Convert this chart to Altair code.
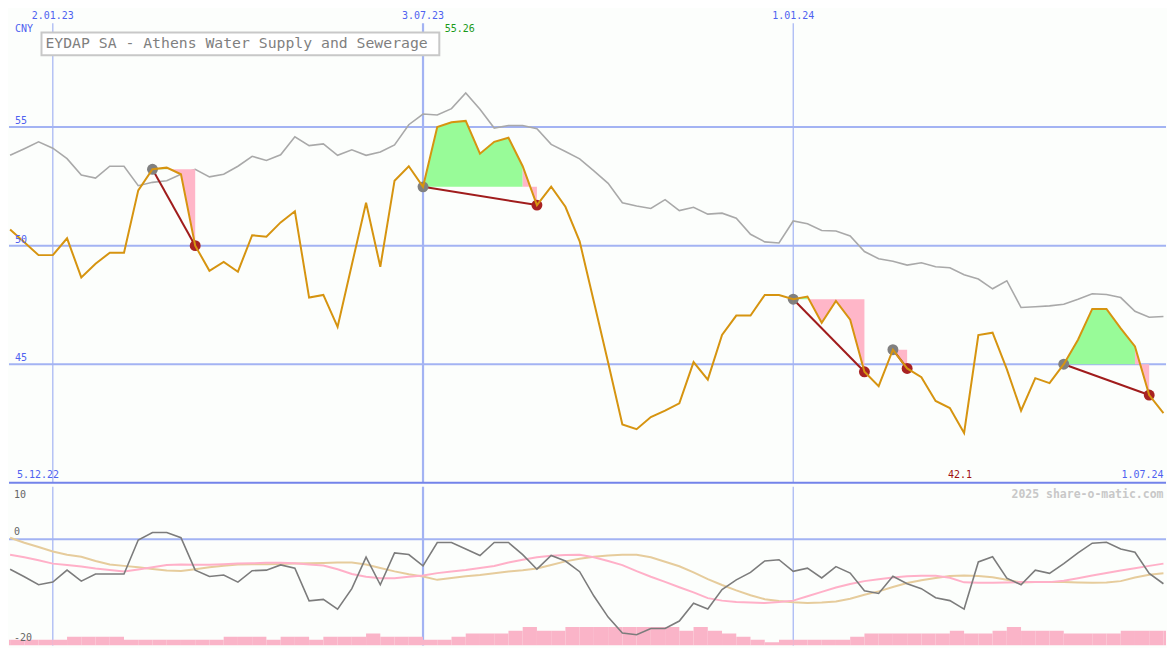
import altair as alt
import pandas as pd

# ---------------- data (weekly, week 0 = 2.01.23) ----------------
weeks = list(range(-3, 79))
close = [50.68, 50.14, 49.60, 49.60, 50.31, 48.66, 49.24, 49.70, 49.70,
         52.33, 53.22, 53.29, 53.01, 50.00, 48.94, 49.31, 48.90, 50.44, 50.38,
         50.98, 51.45, 47.81, 47.92, 46.57, 49.19, 51.81, 49.11, 52.74, 53.35,
         52.48, 55.00, 55.20, 55.26, 53.88, 54.38, 54.55, 53.35, 51.71, 52.49,
         51.64, 50.18, 47.63, 45.07, 42.46, 42.26, 42.77, 43.04, 43.35, 45.09,
         44.35, 46.23, 47.05, 47.05, 47.92, 47.92, 47.74, 47.85, 46.75, 47.67,
         46.88, 44.68, 44.07, 45.61, 44.82, 44.45, 43.45, 43.15, 42.10, 46.23,
         46.33, 44.79, 43.04, 44.41, 44.20, 45.00, 46.03, 47.33, 47.33, 46.51, 45.75, 43.70, 42.94]
index_line = [53.81, 54.09, 54.38, 54.11, 53.67, 52.98, 52.85, 53.35, 53.35,
              52.53, 52.67, 52.74, 53.01, 53.22, 52.90, 53.01, 53.35, 53.77, 53.59,
              53.83, 54.59, 54.22, 54.29, 53.81, 54.04, 53.81, 53.95, 54.25, 55.10,
              55.55, 55.51, 55.78, 56.44, 55.75, 54.96, 55.07, 55.07, 54.93, 54.27,
              53.97, 53.66, 53.15, 52.63, 51.81, 51.67, 51.57, 51.94, 51.48, 51.62,
              51.33, 51.37, 51.16, 50.48, 50.16, 50.11, 51.04, 50.92, 50.64, 50.62,
              50.41, 49.75, 49.45, 49.34, 49.18, 49.28, 49.11, 49.07, 48.77, 48.59,
              48.18, 48.52, 47.39, 47.42, 47.46, 47.53, 47.74, 47.97, 47.94, 47.81, 47.23, 46.98, 47.01]
osc_main = [-5.69, -7.13, -8.65, -8.15, -5.87, -7.96, -6.61, -6.61, -6.61,
            -0.13, 1.30, 1.30, 0.31, -5.87, -7.09, -6.80, -8.15, -5.98, -5.87,
            -4.87, -5.50, -11.72, -11.43, -13.28, -9.39, -3.39, -8.65, -2.59, -2.91,
            -5.06, -0.61, -0.61, -1.85, -3.09, -0.61, -0.61, -2.91, -5.69, -3.09,
            -4.13, -6.17, -10.80, -14.81, -17.83, -18.15, -16.98, -16.98, -15.56, -12.17,
            -13.28, -9.57, -7.72, -6.30, -4.13, -3.89, -6.11, -5.50, -7.35, -5.19,
            -6.43, -9.81, -10.31, -7.04, -8.46, -9.39, -11.11, -11.67, -13.28, -4.31,
            -3.33, -7.41, -8.65, -5.87, -6.48, -4.63, -2.59, -0.74, -0.56, -1.85, -2.46, -6.48, -8.46]
osc_slow = [0.28, -0.65, -1.48, -2.31, -2.93, -3.33, -4.13, -4.81, -5.06,
            -5.33, -5.65, -5.96, -6.02, -5.70, -5.30, -5.04, -4.78, -4.76, -4.76,
            -4.70, -4.63, -4.56, -4.50, -4.44, -4.44, -4.81, -5.46, -6.11, -6.67,
            -7.09, -7.72, -7.37, -7.04, -6.81, -6.48, -6.11, -5.89, -5.56, -4.91,
            -4.20, -3.70, -3.33, -3.07, -2.96, -2.93, -3.43, -4.26, -5.13, -6.30,
            -7.59, -8.70, -9.72, -10.65, -11.39, -11.76, -12.00, -12.13, -12.04, -11.85,
            -11.30, -10.56, -9.91, -9.07, -8.33, -7.78, -7.35, -6.98, -6.91, -7.00,
            -7.22, -7.69, -8.24, -8.15, -8.15, -8.15, -8.20, -8.28, -8.24, -7.96, -7.28, -6.74, -6.48]
osc_fast = [-2.93, -3.43, -3.98, -4.63, -4.91, -5.19, -5.56, -5.83, -6.11,
            -5.74, -5.33, -4.91, -4.78, -4.85, -4.85, -4.74, -4.63, -4.56, -4.48,
            -4.48, -4.56, -4.78, -5.00, -5.70, -6.61, -7.13, -7.41, -7.41, -7.15,
            -6.91, -6.44, -6.15, -5.85, -5.46, -5.07, -4.41, -3.89, -3.44, -3.15,
            -3.00, -2.96, -3.41, -4.13, -4.91, -6.07, -7.13, -8.11, -9.13, -10.11,
            -11.20, -11.67, -11.91, -12.04, -12.13, -11.94, -11.67, -10.83, -10.00, -9.17,
            -8.52, -7.96, -7.59, -7.26, -7.04, -6.94, -6.96, -7.31, -8.19, -8.28,
            -8.28, -8.24, -8.15, -8.15, -8.15, -7.87, -7.41, -6.91, -6.41, -5.93, -5.52, -5.06, -4.63]
vol_weeks = list(range(-4, 79))
vol = [1.1, 1.1, 1.1, 1.1, 1.1, 1.67, 1.67, 1.67, 1.67,
       1.1, 1.1, 1.1, 1.1, 1.1, 1.1, 1.1, 1.67, 1.67, 1.67,
       1.1, 1.67, 1.67, 1.1, 1.67, 1.67, 1.67, 2.28, 1.67, 1.67,
       1.67, 1.1, 1.1, 1.67, 2.28, 2.28, 2.28, 2.78, 3.52, 2.78,
       2.78, 3.52, 3.52, 3.52, 3.52, 3.52, 3.52, 3.52, 3.52, 2.78,
       3.52, 2.78, 2.28, 1.67, 1.1, 0.61, 1.1, 1.1, 1.1, 1.1,
       1.1, 1.67, 2.28, 2.28, 2.28, 2.28, 2.28, 2.28, 2.78, 2.28,
       2.28, 2.78, 3.52, 2.78, 2.78, 2.78, 2.28, 2.28, 2.28, 2.28, 2.78, 2.78, 2.78, 2.78]

signal_start = [7, 26, 52, 59, 71]
signal_end = [10, 34, 57, 60, 77]

tick_weeks = [0, 26, 52]
tick_labels = ["2.01.23", "3.07.23", "1.01.24"]
tick_widths = [1.2, 2.2, 1.2]
price_levels = [55, 50, 45]
price_labels = ["55", "50", "45"]
osc_levels = [10, 0, -20.2]
osc_labels = ["10", "0", "-20"]
title = "EYDAP SA - Athens Water Supply and Sewerage"

# ---------------- layout ----------------
W, H1, H2 = 1159, 475, 159
SX, SY1, SY2 = W / 1175, H1 / 487, H2 / 163
FONT = "DejaVu Sans Mono"
GRID = "#a3b3f3"
BLUE_TXT = "#4f62f0"
GREEN = "#98fb98"
PINK = "#ffb6c8"

xs = alt.Scale(domain=[-3.077, 78.18], nice=False, zero=False)
y1 = alt.Scale(domain=[40, 60], nice=False, zero=False)
y2s = alt.Scale(domain=[-20.2, 10], nice=False, zero=False)


def X(f="i"):
    return alt.X(f"{f}:Q", scale=xs, axis=None)


def Y1(f):
    return alt.Y(f"{f}:Q", scale=y1, axis=None)


def Y2(f):
    return alt.Y(f"{f}:Q", scale=y2s, axis=None)


price_df = pd.DataFrame({"i": weeks, "close": close, "idx": index_line,
                         "osc": osc_main, "slow": osc_slow, "fast": osc_fast})
vol_df = pd.DataFrame({"i": vol_weeks, "i2": [w + 1 for w in vol_weeks],
                       "top": [-20.2 + v for v in vol]})

fill_rows, conn_rows, start_rows, end_rows = [], [], [], []
for n, (s, e) in enumerate(zip(signal_start, signal_end)):
    level = close[weeks.index(s)]
    endv = close[weeks.index(e)]
    conn_rows.append({"i": s, "i2": e, "p": level, "p2": endv})
    start_rows.append({"i": s, "p": level})
    end_rows.append({"i": e, "p": endv})
    prev, run = None, 0
    for k in range(s, e):
        nxt = close[weeks.index(k + 1)]
        kind = "up" if nxt > level else "down"
        if kind != prev:
            run += 1
            prev = kind
            fill_rows.append({"run": f"{n}_{run}", "kind": kind, "i": k,
                              "p": close[weeks.index(k)], "lvl": level})
        fill_rows.append({"run": f"{n}_{run}", "kind": kind, "i": k + 1, "p": nxt, "lvl": level})
fill_df = pd.DataFrame(fill_rows)
conn_df = pd.DataFrame(conn_rows)
start_df = pd.DataFrame(start_rows)
end_df = pd.DataFrame(end_rows)

vgrid_df = pd.DataFrame({"i": tick_weeks, "w": tick_widths, "t": tick_labels})
hgrid_df = pd.DataFrame({"p": price_levels, "t": price_labels})

imax = weeks[close.index(max(close))]
imin = weeks[close.index(min(close))]
extreme_df = pd.DataFrame({"i": [imax], "t": [f"{max(close):g}"]})
min_df = pd.DataFrame({"i": [imin], "t": [f"{min(close):g}"]})

# ---------------- main panel ----------------
hgrid = alt.Chart(hgrid_df).mark_rule(color=GRID, strokeWidth=2).encode(y=Y1("p"))
vgrid = alt.Chart(vgrid_df).mark_rule(color=GRID).encode(
    x=X(), y=alt.value(15 * SY1), y2=alt.value(H1),
    strokeWidth=alt.StrokeWidth("w:Q", scale=None))
sep = alt.Chart(pd.DataFrame({"p": [40]})).mark_rule(color="#7383ea", strokeWidth=2).encode(y=Y1("p"))

idx_line = alt.Chart(price_df).mark_line(color="#a9a9a9", strokeWidth=1.6, clip=True).encode(
    x=X(), y=Y1("idx"))
fills = alt.Chart(fill_df).mark_area(opacity=1, clip=True).encode(
    x=X(), y=alt.Y("p:Q", scale=y1, axis=None, stack=None), y2="lvl:Q",
    color=alt.Color("kind:N", scale=alt.Scale(domain=["up", "down"], range=[GREEN, PINK]), legend=None),
    detail="run:N")
conns = alt.Chart(conn_df).mark_rule(color="#a01c1c", strokeWidth=2).encode(
    x=X(), x2="i2:Q", y=Y1("p"), y2="p2:Q")
starts = alt.Chart(start_df).mark_circle(color="#808080", size=120, opacity=1).encode(x=X(), y=Y1("p"))
ends = alt.Chart(end_df).mark_circle(color="#a82222", size=120, opacity=1).encode(x=X(), y=Y1("p"))
close_line = alt.Chart(price_df).mark_line(color="#d69410", strokeWidth=2, clip=True).encode(
    x=X(), y=Y1("close"))

date_txt = alt.Chart(vgrid_df).mark_text(font=FONT, fontSize=10, color=BLUE_TXT, baseline="middle").encode(
    x=X(), y=alt.value(8 * SY1), text="t:N")
price_txt = alt.Chart(hgrid_df).mark_text(font=FONT, fontSize=10, color=BLUE_TXT, align="left",
                                          baseline="alphabetic", dy=-3).encode(
    x=alt.value(6 * SX), y=Y1("p"), text="t:N")
cny_txt = alt.Chart(pd.DataFrame({"t": ["CNY"]})).mark_text(
    font=FONT, fontSize=10, color=BLUE_TXT, align="left", baseline="middle").encode(
    x=alt.value(6 * SX), y=alt.value(21 * SY1), text="t:N")
max_txt = alt.Chart(extreme_df).mark_text(font=FONT, fontSize=10, color="#1a9a1a", baseline="middle", dx=-6).encode(
    x=X(), y=alt.value(21 * SY1), text="t:N")
min_txt = alt.Chart(min_df).mark_text(font=FONT, fontSize=10, color="#a01010", baseline="middle", dx=-4).encode(
    x=X(), y=alt.value(479 * SY1), text="t:N")
left_txt = alt.Chart(pd.DataFrame({"t": ["5.12.22"]})).mark_text(
    font=FONT, fontSize=10, color=BLUE_TXT, align="left", baseline="middle").encode(
    x=alt.value(8 * SX), y=alt.value(479 * SY1), text="t:N")
right_txt = alt.Chart(pd.DataFrame({"i": [78], "t": ["1.07.24"]})).mark_text(
    font=FONT, fontSize=10, color=BLUE_TXT, align="right", baseline="middle").encode(
    x=X(), y=alt.value(479 * SY1), text="t:N")

title_df = pd.DataFrame({"t": [title]})
title_box = alt.Chart(title_df).mark_rect(fill="#ffffff", stroke="#c8c8c8", strokeWidth=2).encode(
    x=alt.value(33 * SX), x2=alt.value(437 * SX), y=alt.value(24.5 * SY1), y2=alt.value(48 * SY1))
title_txt = alt.Chart(title_df).mark_text(font=FONT, fontSize=14.8, color="#7f7f7f", align="left",
                                          baseline="middle").encode(
    x=alt.value(37 * SX), y=alt.value(36.5 * SY1), text="t:N")

main = alt.layer(hgrid, vgrid, idx_line, fills, conns, starts, ends, close_line, sep,
                 date_txt, price_txt, cny_txt, max_txt, min_txt, left_txt, right_txt,
                 title_box, title_txt).properties(width=W, height=H1)

# ---------------- oscillator panel ----------------
vgrid2 = alt.Chart(vgrid_df).mark_rule(color=GRID).encode(
    x=X(), strokeWidth=alt.StrokeWidth("w:Q", scale=None))
zero = alt.Chart(pd.DataFrame({"v": [0]})).mark_rule(color=GRID, strokeWidth=2).encode(y=Y2("v"))
bars = alt.Chart(vol_df).mark_rect(color="#fab4c8", clip=True).encode(
    x=X(), x2="i2:Q", y=Y2("top"), y2=alt.datum(-20.2))
slow_line = alt.Chart(price_df).mark_line(color="#e6cc9c", strokeWidth=2, clip=True).encode(x=X(), y=Y2("slow"))
fast_line = alt.Chart(price_df).mark_line(color="#ffb0c8", strokeWidth=2, clip=True).encode(x=X(), y=Y2("fast"))
osc_line = alt.Chart(price_df).mark_line(color="#7c7c7c", strokeWidth=1.6, clip=True).encode(x=X(), y=Y2("osc"))

osc_dy = [9 * SY2, -7 * SY2, -8 * SY2]
osc_txts = [
    alt.Chart(pd.DataFrame({"v": [v], "t": [t]})).mark_text(
        font=FONT, fontSize=10, color="#666666", align="left", baseline="middle", dy=d).encode(
        x=alt.value(5 * SX), y=Y2("v"), text="t:N")
    for v, t, d in zip(osc_levels, osc_labels, osc_dy)
]
wm = alt.Chart(pd.DataFrame({"i": [78], "t": ["2025 share-o-matic.com"]})).mark_text(
    font=FONT, fontSize=11.5, fontWeight="bold", color="#c8c8c8", align="right", baseline="middle").encode(
    x=X(), y=alt.value(9 * SY2), text="t:N")

lower = alt.layer(vgrid2, zero, bars, slow_line, fast_line, osc_line, *osc_txts, wm).properties(
    width=W, height=H2)

chart = alt.vconcat(main, lower, spacing=0).properties(
    background="#fcfefc", padding=0
).configure_view(strokeWidth=0).configure_concat(spacing=0)

chart.save("out.html", embed_options={"renderer": "svg", "actions": False})
